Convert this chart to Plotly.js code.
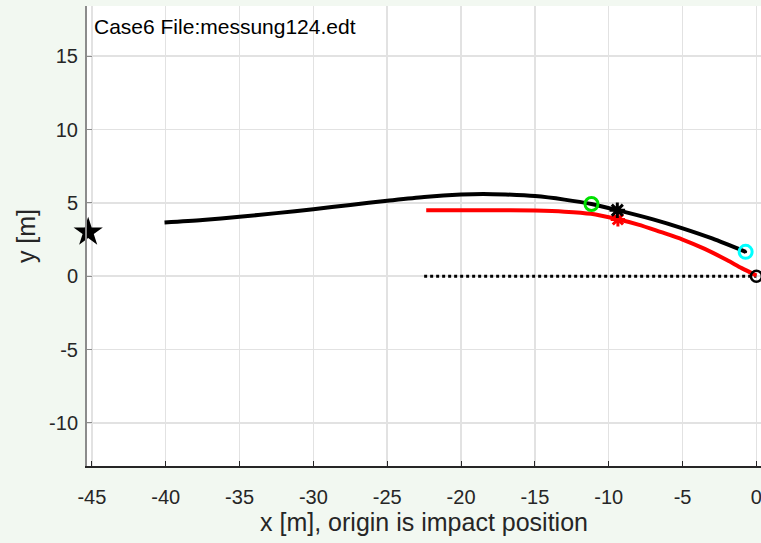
<!DOCTYPE html>
<html>
<head>
<meta charset="utf-8">
<script src="https://cdn.plot.ly/plotly-3.0.1.min.js"></script>
<style>html,body{margin:0;padding:0;background:#f2f8f1;}#chart{width:761px;height:543px;}</style>
</head>
<body>
<div id="chart"></div>
<script>
// Vehicle path (black)
const blackX = [-40.08, -37.5, -35, -32.5, -30, -27.5, -25, -22.5, -20, -18.5, -17, -15, -13, -11.17, -9.42, -7, -5, -3, -0.73];
const blackY = [3.66, 3.83, 4.05, 4.3, 4.57, 4.86, 5.14, 5.4, 5.57, 5.61, 5.57, 5.46, 5.22, 4.92, 4.5, 3.87, 3.26, 2.57, 1.66];
// Path (red)
const redX = [-22.36, -18, -15, -13, -11.2, -9.4, -8, -6.5, -5, -3.5, -2, -1, 0];
const redY = [4.5, 4.5, 4.47, 4.4, 4.25, 3.88, 3.52, 3.02, 2.5, 1.86, 1.1, 0.55, 0.05];
// Dotted reference line
const dotX = [-22.5, 0];
const dotY = [0, 0];
// Point markers
const starPt = {x: [-45.25], y: [3.0]};
const greenPt = {x: [-11.17], y: [4.92]};
const blackAstPt = {x: [-9.42], y: [4.5]};
const redAstPt = {x: [-9.38], y: [3.87]};
const cyanPt = {x: [-0.73], y: [1.66]};
const originPt = {x: [0], y: [0]};
const xTicks = [-45, -40, -35, -30, -25, -20, -15, -10, -5, 0];
const yTicks = [-10, -5, 0, 5, 10, 15];
const caseLabel = "Case6 File:messung124.edt";

const traces = [
  {x: dotX, y: dotY, mode: 'lines', line: {color: '#000', width: 3, dash: 'dot'}, cliponaxis: false},
  {x: blackX, y: blackY, mode: 'lines', line: {color: '#000', width: 4, shape: 'spline', smoothing: 0.8}},
  {x: redX, y: redY, mode: 'lines', line: {color: '#ff0000', width: 4, shape: 'spline', smoothing: 0.8}},
  {x: greenPt.x, y: greenPt.y, mode: 'markers', marker: {symbol: 'circle-open', size: 13, color: '#00e000', line: {width: 3, color: '#00e000'}}},
  {x: redAstPt.x, y: redAstPt.y, mode: 'markers', marker: {symbol: 'asterisk-open', size: 12, color: '#ff0000', line: {width: 3, color: '#ff0000'}}},
  {x: blackAstPt.x, y: blackAstPt.y, mode: 'markers', marker: {symbol: 'asterisk-open', size: 13, color: '#000', line: {width: 3, color: '#000'}}},
  {x: cyanPt.x, y: cyanPt.y, mode: 'markers', marker: {symbol: 'circle-open', size: 13, color: '#00ffff', line: {width: 3, color: '#00ffff'}}},
  {x: cyanPt.x, y: cyanPt.y, mode: 'markers', marker: {symbol: 'circle', size: 3, color: '#000'}},
  {x: originPt.x, y: originPt.y, mode: 'markers', cliponaxis: false, marker: {symbol: 'circle-open', size: 11, color: '#000', line: {width: 2.5, color: '#000'}}},
  {x: starPt.x, y: starPt.y, mode: 'markers', cliponaxis: false, marker: {symbol: 'star', size: 22, color: '#000'}}
];

const layout = {
  width: 761, height: 543,
  margin: {l: 87, r: 0, t: 6, b: 77},
  paper_bgcolor: '#f2f8f1',
  plot_bgcolor: '#ffffff',
  showlegend: false,
  font: {family: 'Liberation Sans, Arial, sans-serif', color: '#262626', size: 16},
  xaxis: {
    range: [-45.33, 0.31], tickvals: xTicks, ticktext: xTicks.map(String),
    showgrid: true, gridcolor: '#e2e2e2', gridwidth: 1.5, zeroline: false,
    showline: true, linecolor: '#262626', linewidth: 2,
    ticks: 'inside', ticklen: 5, tickcolor: '#262626',
    tickfont: {size: 20, color: '#262626'},
    ticklabeloverflow: 'allow', ticklabelstandoff: 12,
    title: {text: 'x [m], origin is impact position', font: {size: 25, color: '#262626'}, standoff: 6}
  },
  yaxis: {
    range: [-12.94, 18.42], tickvals: yTicks, ticktext: yTicks.map(String),
    showgrid: true, gridcolor: '#e2e2e2', gridwidth: 1.5, zeroline: false,
    showline: true, linecolor: '#8c8c8c', linewidth: 2,
    ticks: 'inside', ticklen: 5, tickcolor: '#8c8c8c',
    tickfont: {size: 20, color: '#262626'},
    ticklabelstandoff: 3,
    title: {text: 'y [m]', font: {size: 25, color: '#262626'}, standoff: 6}
  },
  annotations: [{
    text: caseLabel, xref: 'paper', yref: 'paper', x: 0.008, y: 0.985,
    xanchor: 'left', yanchor: 'top', showarrow: false,
    font: {size: 21, color: '#000'}
  }]
};

Plotly.newPlot('chart', traces, layout, {displayModeBar: false, staticPlot: true});
</script>
</body>
</html>
